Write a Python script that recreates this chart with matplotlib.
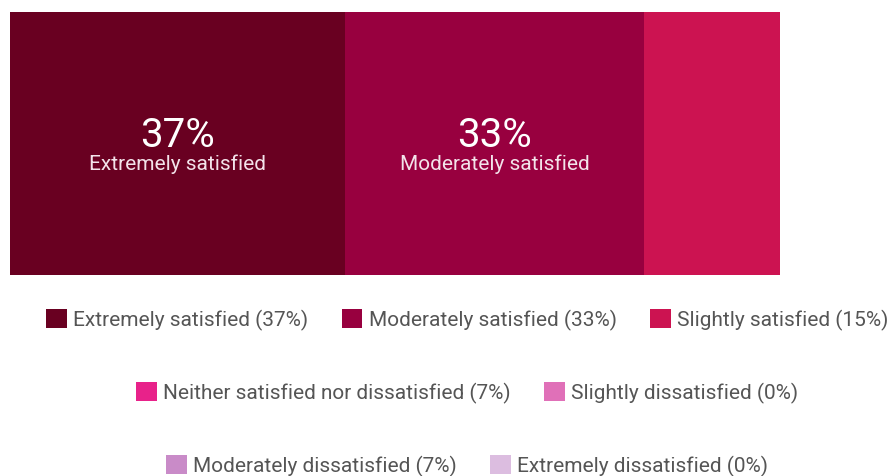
"""
Satisfaction survey - single stacked bar with legend rows
"""

import matplotlib.pyplot as plt
from matplotlib.patches import Patch

# Data
categories = [
    'Extremely satisfied',
    'Moderately satisfied',
    'Slightly satisfied',
    'Neither satisfied nor dissatisfied',
    'Slightly dissatisfied',
    'Moderately dissatisfied',
    'Extremely dissatisfied',
]
values = [37, 33, 15, 7, 0, 7, 0]
colors = ['#690021', '#98003f', '#cc1351', '#e8228a', '#e070b8', '#c98bc8', '#dcbde0']
labelled = [0, 1]           # segments with an inside label
legend_rows = [[0, 1, 2], [3, 4], [5, 6]]

plt.rcParams['font.family'] = ['Roboto', 'DejaVu Sans']

fig = plt.figure(figsize=(8.9, 4.76), dpi=100)
ax = fig.add_axes([10 / 890, 1 - 275 / 476, 770 / 890, 263 / 476])

left = 0
for i, (cat, val, col) in enumerate(zip(categories, values, colors)):
    ax.barh(0, val, left=left, height=1, color=col, edgecolor='none')
    if i in labelled:
        cx = left + val / 2
        ax.text(cx, 0.03, f'{val}%', ha='center', va='center',
                color='white', fontsize=29)
        ax.text(cx, -0.08, cat, ha='center', va='center',
                color='#f3e3ea', fontsize=15)
    left += val

ax.set_xlim(0, 85)
ax.set_ylim(-0.5, 0.5)
ax.axis('off')

# Legend, one row at a time so each row is centered
row_y = [1 - 320 / 476, 1 - 393 / 476, 1 - 466 / 476]
for row, y in zip(legend_rows, row_y):
    handles = [Patch(facecolor=colors[i], edgecolor='none',
                     label=f'{categories[i]} ({values[i]}%)') for i in row]
    fig.legend(handles=handles, loc='center', bbox_to_anchor=(0.525, y),
               ncol=len(handles), frameon=False, fontsize=15,
               handlelength=1.0, handleheight=1.0, handletextpad=0.3,
               columnspacing=1.6, labelcolor='#555555', borderaxespad=0)

fig.savefig('out.png', dpi=100)
